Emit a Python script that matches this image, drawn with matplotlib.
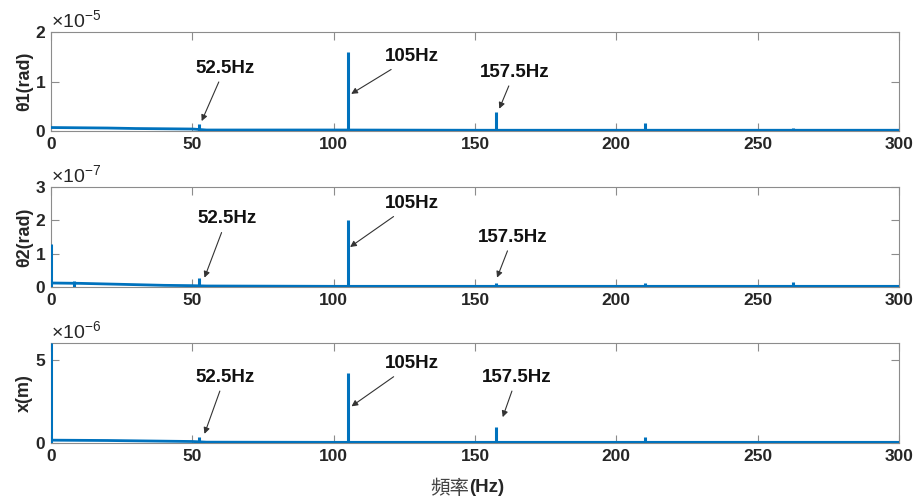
import matplotlib
matplotlib.use('Agg')
import matplotlib.pyplot as plt
from matplotlib.ticker import FuncFormatter

# ---------------- data ----------------
x_ticks = [0, 50, 100, 150, 200, 250, 300]

# panel 1 : theta1 (rad)
peak_f1 = [52.5, 105, 157.5, 210, 262.5]
peak_a1 = [0.14e-5, 1.60e-5, 0.38e-5, 0.16e-5, 0.06e-5]
floor_f1 = [0, 10, 20, 30, 40, 50, 55, 100, 150, 200, 250, 300]
floor_a1 = [0.07e-5, 0.065e-5, 0.06e-5, 0.05e-5, 0.045e-5, 0.04e-5, 0.02e-5,
            0.02e-5, 0.015e-5, 0.015e-5, 0.015e-5, 0.015e-5]

# panel 2 : theta2 (rad)
peak_f2 = [0, 8, 52.5, 105, 157.5, 210, 217.5, 262.5, 270]
peak_a2 = [1.3e-7, 0.18e-7, 0.26e-7, 2.0e-7, 0.12e-7, 0.12e-7, 0.04e-7, 0.16e-7, 0.03e-7]
floor_f2 = [0, 10, 20, 30, 40, 50, 55, 100, 150, 200, 250, 300]
floor_a2 = [0.12e-7, 0.11e-7, 0.09e-7, 0.07e-7, 0.05e-7, 0.04e-7, 0.03e-7,
            0.02e-7, 0.02e-7, 0.02e-7, 0.02e-7, 0.02e-7]

# panel 3 : x (m)
peak_f3 = [0, 52.5, 105, 157.5, 210, 262.5]
peak_a3 = [6.0e-6, 0.35e-6, 4.2e-6, 0.96e-6, 0.36e-6, 0.12e-6]
floor_f3 = [0, 10, 20, 30, 40, 50, 55, 100, 150, 200, 250, 300]
floor_a3 = [0.17e-6, 0.16e-6, 0.15e-6, 0.13e-6, 0.11e-6, 0.09e-6, 0.05e-6,
            0.04e-6, 0.04e-6, 0.04e-6, 0.04e-6, 0.04e-6]

ann_labels = ['52.5Hz', '105Hz', '157.5Hz']
y_labels = ['θ1(rad)', 'θ2(rad)', 'x(m)']
exponents = [-5, -7, -6]
y_limits = [2e-5, 3e-7, 6e-6]
y_ticks = [[0, 1e-5, 2e-5], [0, 1e-7, 2e-7, 3e-7], [0, 5e-6]]

# --------------- layout ---------------
# annotation (text position, arrow head) in data coords per panel
ann_pos = [
    [((61.5, 1.27e-5), (53.3, 0.20e-5)),
     ((127.7, 1.50e-5), (106.2, 0.75e-5)),
     ((164.0, 1.19e-5), (158.6, 0.45e-5))],
    [((62.2, 2.05e-7), (54.3, 0.28e-7)),
     ((127.7, 2.50e-7), (105.8, 1.2e-7)),
     ((163.4, 1.50e-7), (157.8, 0.28e-7))],
    [((61.5, 3.95e-6), (54.3, 0.55e-6)),
     ((127.7, 4.75e-6), (106.3, 2.2e-6)),
     ((164.8, 3.95e-6), (159.8, 1.55e-6))],
]

plt.rcParams['font.family'] = ['Liberation Sans', 'DejaVu Sans']
plt.rcParams['mathtext.fontset'] = 'custom'
plt.rcParams['mathtext.rm'] = 'Liberation Sans'
plt.rcParams['mathtext.it'] = 'Liberation Sans'

BLUE = '#0072BD'
TXT = '#262626'
EDGE = '#8c8c8c'

fig = plt.figure(figsize=(9.2, 5.04), dpi=100)
W, H = 920.0, 504.0
boxes = [(32, 131), (187, 287), (343, 443)]
left_px, right_px = 51, 899

panels = [(peak_f1, peak_a1, floor_f1, floor_a1),
          (peak_f2, peak_a2, floor_f2, floor_a2),
          (peak_f3, peak_a3, floor_f3, floor_a3)]

for i, (pf, pa, ff, fa) in enumerate(panels):
    top, bot = boxes[i]
    ax = fig.add_axes([left_px / W, 1 - bot / H, (right_px - left_px) / W, (bot - top) / H])
    ax.plot(ff, fa, color=BLUE, lw=2.0, solid_capstyle='butt', zorder=3)
    ax.vlines(pf, 0, pa, color=BLUE, lw=2.2, zorder=3)
    ax.set_xlim(0, 300)
    ax.set_ylim(0, y_limits[i])
    ax.set_xticks(x_ticks)
    ax.set_yticks(y_ticks[i])
    sc = 10.0 ** exponents[i]
    ax.yaxis.set_major_formatter(FuncFormatter(lambda v, p, s=sc: f'{v / s:g}'))
    ax.tick_params(direction='in', length=6, width=0.8, color=EDGE,
                   top=True, right=True, labelsize=12.5, labelcolor=TXT, pad=4)
    for lab in ax.get_xticklabels() + ax.get_yticklabels():
        lab.set_fontweight('bold')
    for sp in ax.spines.values():
        sp.set_color(EDGE)
        sp.set_linewidth(0.8)
    ax.set_ylabel(y_labels[i], fontsize=13, fontweight='bold', color=TXT, labelpad=2)
    ax.yaxis.set_label_coords(-0.021, 0.5)
    ax.text(0.0, 1.01, r'$\times$10$^{%d}$' % exponents[i], transform=ax.transAxes,
            fontsize=14, color=TXT, ha='left', va='bottom')
    for lab, ((tx, ty), (hx, hy)) in zip(ann_labels, ann_pos[i]):
        ax.annotate(lab, xy=(hx, hy), xytext=(tx, ty), fontsize=13.5, fontweight='bold',
                    color='#111111', ha='center', va='center',
                    arrowprops=dict(arrowstyle='-|>', color='#333333', lw=0.8,
                                    mutation_scale=9, shrinkA=2, shrinkB=0))

fig.text(469 / W, 1 - 488 / H, '頻率', family=['Noto Sans CJK TC', 'DejaVu Sans'],
         fontsize=14, color='#444444', ha='right', va='center')
fig.text(469 / W, 1 - 488 / H, '(Hz)', fontsize=13.5, fontweight='bold',
         color=TXT, ha='left', va='center')

fig.savefig('out.png', dpi=100, facecolor='white')
